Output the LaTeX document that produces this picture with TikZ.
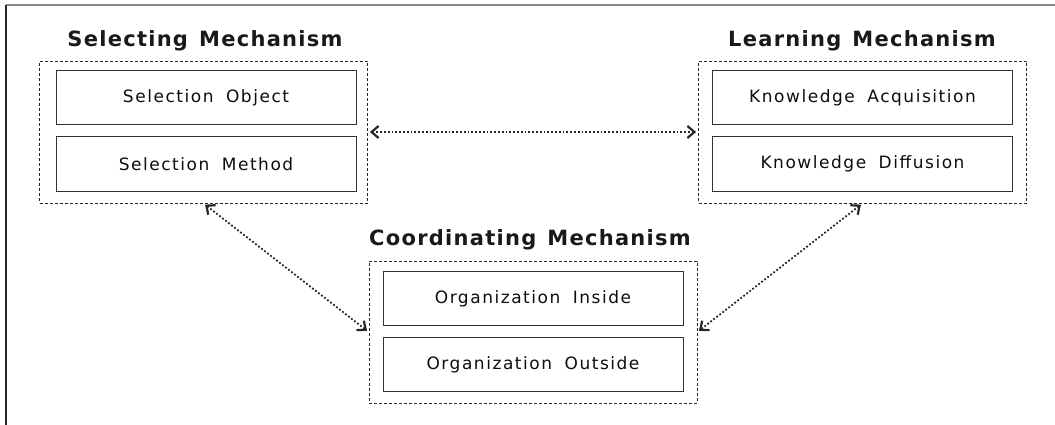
\documentclass[tikz,border=0pt]{standalone}
\usepackage{fontspec}
\setmainfont{DejaVu Sans}
\newfontfamily\itemfont[LetterSpace=9,WordSpace=1.8]{DejaVu Sans}
\newfontfamily\titlefont[LetterSpace=6,WordSpace=1.3]{DejaVu Sans Bold}
\usetikzlibrary{arrows.meta}
\tikzset{
  groupbox/.style={draw=black!85, dashed, dash pattern=on 3pt off 2pt, line width=0.8pt,
    minimum width=328pt, minimum height=142pt, inner sep=0pt},
  itembox/.style={draw=black!80, line width=1pt, minimum width=300pt, minimum height=54pt,
    inner sep=0pt, text=black!95, font=\itemfont\fontsize{17}{20}\selectfont},
  grouptitle/.style={anchor=base, text=black!90, font=\titlefont\fontsize{21}{24}\selectfont},
  link/.style={{Straight Barb[length=7pt,width=12pt,line width=2.2pt]}-{Straight Barb[length=7pt,width=12pt,line width=2.2pt]},
    draw=black!85, line width=1.8pt, dotted, shorten <=2pt, shorten >=2pt}
}
\begin{document}
\begin{tikzpicture}[x=1pt,y=-1pt]
      \useasboundingbox (0,0) rectangle (1055,425);
      \draw[black!45, line width=1.5pt] (6,5) -- (1055,5);
      \draw[black!85, line width=1.5pt] (6,5) -- (6,425);
      \draw
        (203.5,132) node[groupbox] (selecting){}
        (862.5,132) node[groupbox] (learning){}
        (533,332) node[groupbox] (coordinating){};
      \draw
        (205,47) node[grouptitle] (selectingtitle){Selecting Mechanism}
        (862,47) node[grouptitle] (learningtitle){Learning Mechanism}
        (530,245) node[grouptitle] (coordinatingtitle){Coordinating Mechanism};
      \draw
        (206,98) node[itembox] (object){Selection Object}
        (206,164) node[itembox] (method){Selection Method}
        (862.5,98) node[itembox] (acquisition){Knowledge Acquisition}
        (862.5,164) node[itembox] (diffusion){Knowledge Diffusion}
        (533,298.5) node[itembox] (inside){Organization Inside}
        (533,364.5) node[itembox] (outside){Organization Outside};
      \begin{scope}[link]
        \draw (selecting.east) to (learning.west);
        \draw (selecting.south) to (coordinating.west);
        \draw (learning.south) to (coordinating.east);
      \end{scope}
    \end{tikzpicture}
\end{document}
